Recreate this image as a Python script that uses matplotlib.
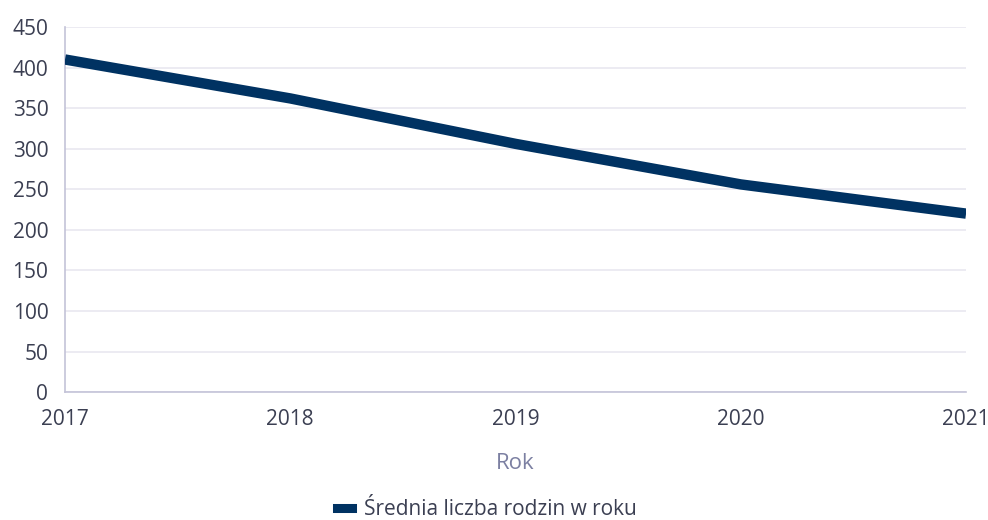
import matplotlib
matplotlib.use("Agg")
import matplotlib.pyplot as plt
from matplotlib.lines import Line2D

plt.rcParams["font.family"] = ["Open Sans", "DejaVu Sans"]

years = [2017, 2018, 2019, 2020, 2021]
avg_families = [410, 362, 306, 256, 220]
series_label = "Średnia liczba rodzin w roku"

NAVY = "#003262"
TEXT = "#3b3f52"
GRID = "#e9e8f0"
SPINE = "#c4c3d8"

fig = plt.figure(figsize=(9.88, 5.2), dpi=100)
ax = fig.add_axes([0.0658, 0.246, 0.912, 0.702])

ax.plot(years, avg_families, color=NAVY, lw=7.5, solid_capstyle="butt", zorder=3)

ax.set_xlim(2017, 2021)
ax.set_ylim(0, 450)
ax.set_xticks(years)
ax.set_yticks(range(0, 451, 50))
ax.tick_params(length=0, labelsize=15, colors=TEXT)
ax.tick_params(axis="y", pad=12)
ax.tick_params(axis="x", pad=12)
ax.grid(True, axis="y", color=GRID, lw=1.2)
ax.set_axisbelow(True)
for s in ("top", "right"):
    ax.spines[s].set_visible(False)
for s in ("left", "bottom"):
    ax.spines[s].set_color(SPINE)
    ax.spines[s].set_linewidth(1.2)

ax.set_xlabel("Rok", fontsize=16, color="#7c80a2", labelpad=17)

fig.legend([Line2D([], [], color=NAVY, lw=6.5)], [series_label],
           loc="center", bbox_to_anchor=(0.493, 0.02), frameon=False,
           borderpad=0, borderaxespad=0,
           fontsize=15, labelcolor=TEXT, handlelength=0.7, handletextpad=0.6)

fig.savefig("out.png", dpi=100)
